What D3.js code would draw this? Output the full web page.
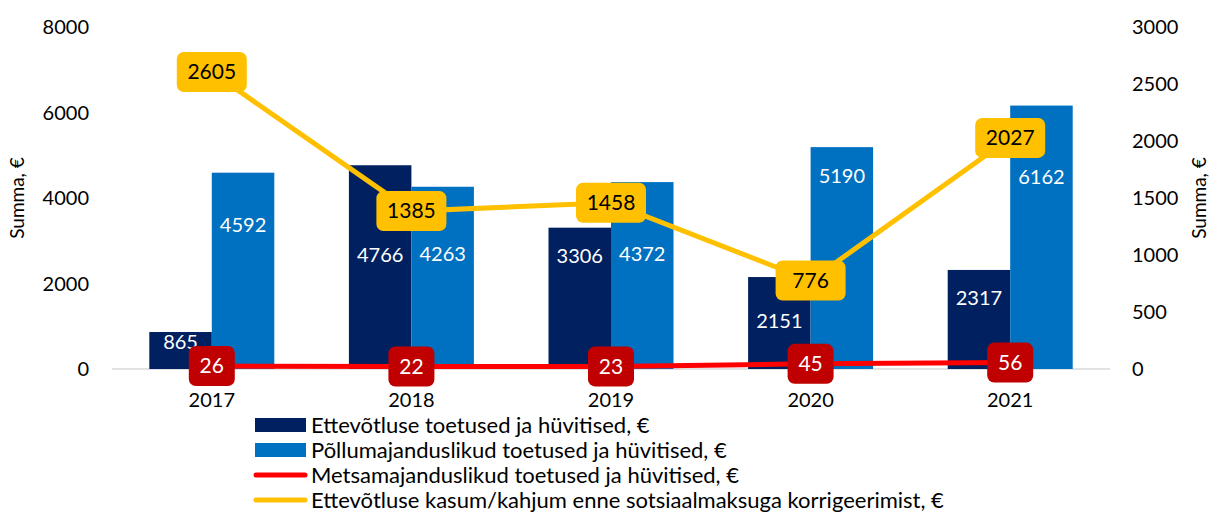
<!DOCTYPE html>
<html>
<head>
<meta charset="utf-8">
<script src="https://cdn.jsdelivr.net/npm/d3@7"></script>
<style>
  body { margin: 0; background: #fff; }
  svg text { font-family: Lato, "Open Sans", sans-serif; }
</style>
</head>
<body>
<div id="chart"></div>
<script>
var years = ["2017", "2018", "2019", "2020", "2021"];
var ettevotlus = [865, 4766, 3306, 2151, 2317];
var pollumajandus = [4592, 4263, 4372, 5190, 6162];
var metsamajandus = [26, 22, 23, 45, 56];
var kasum = [2605, 1385, 1458, 776, 2027];
var leftTicks = [0, 2000, 4000, 6000, 8000];
var rightTicks = [0, 500, 1000, 1500, 2000, 2500, 3000];
var legendNames = [
  "Ettevõtluse toetused ja hüvitised, €",
  "Põllumajanduslikud toetused ja hüvitised, €",
  "Metsamajanduslikud toetused ja hüvitised, €",
  "Ettevõtluse kasum/kahjum enne sotsiaalmaksuga korrigeerimist, €"
];

// where Excel put the bar labels (left-axis units), moved by hand in the original
var darkLabelAt = [632, 2667, 2643, 1123, 1661];
var lightLabelAt = [3368, 2690, 2690, 4515, 4491];

var width = 1211,
    height = 512,
    plotLeft = 112, plotRight = 1110,
    plotTop = 27, plotBottom = 369;

var svg = d3.select("#chart").append("svg")
    .attr("width", width)
    .attr("height", height);

var x = d3.scaleBand()
    .domain(years)
    .range([plotLeft, plotRight]);

var xInner = d3.scaleBand()
    .domain([0, 1])
    .range([0, 125]);

var y = d3.scaleLinear().domain([0, 8000]).range([plotBottom, plotTop]);
var y2 = d3.scaleLinear().domain([0, 3000]).range([plotBottom, plotTop]);

// baseline
svg.append("line")
    .attr("x1", plotLeft).attr("x2", plotRight)
    .attr("y1", plotBottom).attr("y2", plotBottom)
    .attr("stroke", "#d9d9d9").attr("stroke-width", 1.5);

// left ticks
svg.append("g").selectAll("text")
    .data(leftTicks)
  .enter().append("text")
    .attr("x", 89)
    .attr("y", function(d) { return y(d); })
    .attr("dy", "0.35em")
    .attr("text-anchor", "end")
    .style("font-size", "20px")
    .attr("fill", "#000")
    .text(function(d) { return d; });

svg.append("g").selectAll("text")
    .data(rightTicks)
  .enter().append("text")
    .attr("x", 1132)
    .attr("y", function(d) { return y2(d); })
    .attr("dy", "0.35em")
    .style("font-size", "20px")
    .attr("fill", "#000")
    .text(function(d) { return d; });

svg.append("text")
    .attr("transform", "translate(24,198) rotate(-90)")
    .attr("text-anchor", "middle")
    .style("font-size", "19px")
    .text("Summa, €");

svg.append("text")
    .attr("transform", "translate(1206,198) rotate(-90)")
    .attr("text-anchor", "middle")
    .style("font-size", "19px")
    .text("Summa, €");

// year labels
svg.append("g").selectAll("text")
    .data(years)
  .enter().append("text")
    .attr("x", function(d) { return x(d) + x.bandwidth() / 2; })
    .attr("y", 400)
    .attr("dy", "0.35em")
    .attr("text-anchor", "middle")
    .style("font-size", "20px")
    .text(function(d) { return d; });

var groupX = function(i) { return x(years[i]) + x.bandwidth() / 2 - 62.5; };

// bars
var series = [
  { values: ettevotlus, color: "#002060", labels: darkLabelAt },
  { values: pollumajandus, color: "#0070C0", labels: lightLabelAt }
];

series.forEach(function(s, k) {
  var g = svg.append("g");
  g.selectAll("rect")
      .data(s.values)
    .enter().append("rect")
      .attr("x", function(d, i) { return groupX(i) + xInner(k); })
      .attr("width", xInner.bandwidth())
      .attr("y", function(d) { return y(d); })
      .attr("height", function(d) { return plotBottom - y(d); })
      .attr("fill", s.color);
  g.selectAll("text")
      .data(s.values)
    .enter().append("text")
      .attr("x", function(d, i) { return groupX(i) + xInner(k) + xInner.bandwidth() / 2; })
      .attr("y", function(d, i) { return y(s.labels[i]); })
      .attr("dy", "0.35em")
      .attr("text-anchor", "middle")
      .attr("fill", "#fff")
      .style("font-size", "20px")
      .text(function(d) { return d; });
});

var cx = function(d, i) { return x(years[i]) + x.bandwidth() / 2; };

var line = d3.line()
    .x(cx)
    .y(function(d) { return y2(d); });

function drawLine(values, color, boxColor, textColor, boxW) {
  svg.append("path")
      .datum(values)
      .attr("d", line)
      .attr("fill", "none")
      .attr("stroke", color)
      .attr("stroke-width", 5);
  var g = svg.append("g").selectAll("g")
      .data(values)
    .enter().append("g")
      .attr("transform", function(d, i) { return "translate(" + cx(d, i) + "," + y2(d) + ")"; });
  g.append("rect")
      .attr("x", -boxW / 2)
      .attr("y", -20)
      .attr("width", boxW)
      .attr("height", 40)
      .attr("rx", 7)
      .attr("fill", boxColor);
  g.append("text")
      .attr("dy", "0.35em")
      .attr("text-anchor", "middle")
      .attr("fill", textColor)
      .style("font-size", "21px")
      .text(function(d) { return d; });
}

drawLine(metsamajandus, "#FF0000", "#C00000", "#fff", 46);
drawLine(kasum, "#FFC000", "#FFC000", "#000", 70);

// legend
var legend = svg.append("g").selectAll("g")
    .data(legendNames)
  .enter().append("g")
    .attr("transform", function(d, i) { return "translate(0," + (425 + i * 25) + ")"; });

legend.each(function(d, i) {
  var g = d3.select(this);
  if (i < 2) {
    g.append("rect")
        .attr("x", 255).attr("y", -7)
        .attr("width", 51).attr("height", 14)
        .attr("fill", i === 0 ? "#002060" : "#0070C0");
  } else {
    g.append("line")
        .attr("x1", 256).attr("x2", 305)
        .attr("stroke", i === 2 ? "#FF0000" : "#FFC000")
        .attr("stroke-width", 5)
        .attr("stroke-linecap", "round");
  }
  g.append("text")
      .attr("x", 311)
      .attr("dy", "0.35em")
      .style("font-size", "22px")
      .text(d);
});
</script>
</body>
</html>
